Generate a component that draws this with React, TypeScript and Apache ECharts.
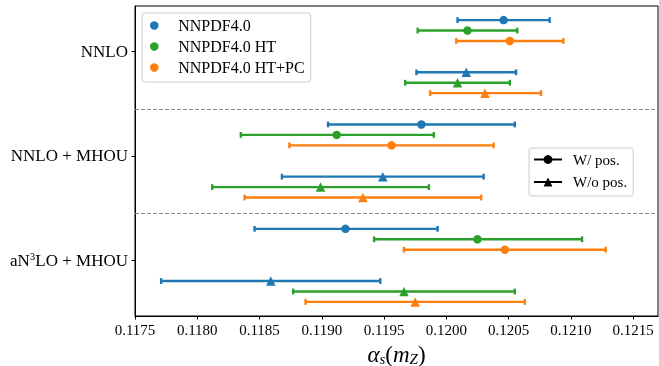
import React, { useEffect, useRef } from "react";
import * as echarts from "echarts";

const FONT = "Liberation Serif";

// Categories (top to bottom)
const GROUPS = ["NNLO", "NNLO + MHOU", "aN³LO + MHOU"];
// Datasets
const DATASETS = ["NNPDF4.0", "NNPDF4.0 HT", "NNPDF4.0 HT+PC"];
const COLORS = ["#1f77b4", "#2ca02c", "#ff7f0e"];
// Tick labels of the x axis
const X_TICKS = [0.1175, 0.118, 0.1185, 0.119, 0.1195, 0.12, 0.1205, 0.121, 0.1215];
const X_MIN = 0.1175;
const X_MAX = 0.1217;

// With positivity (circles): [dataset][group]
const POS_CENTRAL = [
  [0.12046, 0.1198, 0.11919],
  [0.12017, 0.11912, 0.12025],
  [0.12051, 0.11956, 0.12047],
];
const POS_LOW = [
  [0.12009, 0.11905, 0.11846],
  [0.11977, 0.11835, 0.11942],
  [0.12008, 0.11874, 0.11966],
];
const POS_HIGH = [
  [0.12083, 0.12055, 0.11993],
  [0.12057, 0.1199, 0.12109],
  [0.12094, 0.12038, 0.12128],
];
// Without positivity (triangles): [dataset][group]
const NOPOS_CENTRAL = [
  [0.12016, 0.11949, 0.11859],
  [0.12009, 0.11899, 0.11966],
  [0.12031, 0.11933, 0.11975],
];
const NOPOS_LOW = [
  [0.11976, 0.11868, 0.11771],
  [0.11967, 0.11812, 0.11877],
  [0.11987, 0.11838, 0.11887],
];
const NOPOS_HIGH = [
  [0.12056, 0.1203, 0.11947],
  [0.12051, 0.11986, 0.12055],
  [0.12076, 0.12028, 0.12063],
];
// Row offsets inside each category
const POS_OFFSETS = [-0.3, -0.2, -0.1];
const NOPOS_OFFSETS = [0.2, 0.3, 0.4];

const LEGEND_POS = ["W/ pos.", "W/o pos."];

export default function App() {
  const ref = useRef<HTMLDivElement>(null);

  useEffect(() => {
    if (!ref.current) return;
    const chart = echarts.init(ref.current, null, { renderer: "svg" });

    const allOffsets = [...POS_OFFSETS, ...NOPOS_OFFSETS];
    const dataMin = Math.min(...allOffsets);
    const dataMax = GROUPS.length - 1 + Math.max(...allOffsets);
    const pad = (dataMax - dataMin) * 0.05;
    const yMin = dataMin - pad;
    const yMax = dataMax + pad;
    const separators = GROUPS.slice(0, -1).map(
      (_, i) => (i + Math.max(...NOPOS_OFFSETS) + (i + 1 + Math.min(...POS_OFFSETS))) / 2
    );

    const errorSeries = (name: string, color: string, data: number[][], withMark: boolean) => ({
      type: "custom",
      name,
      z: 2,
      silent: true,
      encode: { x: [0, 1], y: 2 },
      data,
      renderItem: (_params: any, api: any) => {
        const lo = api.coord([api.value(0), api.value(2)]);
        const hi = api.coord([api.value(1), api.value(2)]);
        const cap = 2.9;
        const st = { stroke: color, lineWidth: 2.4 };
        return {
          type: "group",
          children: [
            { type: "line", shape: { x1: lo[0], y1: lo[1], x2: hi[0], y2: hi[1] }, style: st },
            { type: "line", shape: { x1: lo[0], y1: lo[1] - cap, x2: lo[0], y2: lo[1] + cap }, style: st },
            { type: "line", shape: { x1: hi[0], y1: hi[1] - cap, x2: hi[0], y2: hi[1] + cap }, style: st },
          ],
        };
      },
      markLine: withMark
        ? {
            silent: true,
            symbol: ["none", "none"],
            label: { show: false },
            lineStyle: { color: "#8c8c8c", type: [4, 2], width: 1 },
            data: separators.map((y) => ({ yAxis: y })),
          }
        : undefined,
    });

    const series: any[] = [];
    DATASETS.forEach((name, d) => {
      const color = COLORS[d];
      series.push(
        errorSeries(
          name + " err",
          color,
          GROUPS.map((_, g) => [POS_LOW[d][g], POS_HIGH[d][g], g + POS_OFFSETS[d]]),
          d === 0
        )
      );
      series.push({
        type: "scatter",
        name,
        z: 3,
        silent: true,
        symbol: "circle",
        symbolSize: 8.5,
        itemStyle: { color, opacity: 1 },
        data: GROUPS.map((_, g) => [POS_CENTRAL[d][g], g + POS_OFFSETS[d]]),
      });
      series.push(
        errorSeries(
          name + " noerr",
          color,
          GROUPS.map((_, g) => [NOPOS_LOW[d][g], NOPOS_HIGH[d][g], g + NOPOS_OFFSETS[d]]),
          false
        )
      );
      series.push({
        type: "scatter",
        name: name + " (w/o pos.)",
        z: 3,
        silent: true,
        symbol: "triangle",
        symbolSize: 9.5,
        itemStyle: { color, opacity: 1 },
        data: GROUPS.map((_, g) => [NOPOS_CENTRAL[d][g], g + NOPOS_OFFSETS[d]]),
      });
    });
    LEGEND_POS.forEach((name, i) => {
      series.push({
        type: "line",
        name,
        data: [],
        symbol: i === 0 ? "circle" : "triangle",
        symbolSize: 9,
        lineStyle: { color: "#000", width: 2 },
        itemStyle: { color: "#000" },
      });
    });

    const legendBase = (gap: number, fs: number) => ({
      orient: "vertical",
      selectedMode: false,
      backgroundColor: "rgba(255,255,255,0.85)",
      borderColor: "#cccccc",
      borderWidth: 1,
      borderRadius: 3,
      formatter: (n: string) => "{g| }{t|" + n + "}",
      textStyle: {
        fontFamily: FONT,
        fontSize: fs,
        color: "#000",
        rich: {
          g: { width: gap, fontSize: fs, lineHeight: 15 },
          t: { fontFamily: FONT, fontSize: fs, color: "#000", lineHeight: 15 },
        },
      },
    });

    chart.setOption({
      animation: false,
      grid: {
        left: 135,
        right: 1,
        top: 6,
        bottom: 50,
        show: true,
        outerBoundsMode: "none",
        containLabel: false,
        borderColor: "#000",
        borderWidth: 1,
        backgroundColor: "transparent",
      },
      legend: [
        {
          ...legendBase(8, 16),
          left: 142,
          top: 13,
          padding: [4.5, 6, 6.5, 8],
          itemGap: 5,
          itemWidth: 22,
          itemHeight: 8.5,
          icon: "circle",
          data: DATASETS,
        },
        {
          ...legendBase(6, 15),
          left: 529,
          top: 148,
          padding: [4, 6, 6.5, 4],
          itemGap: 7.5,
          itemWidth: 28,
          itemHeight: 11,
          data: LEGEND_POS,
        },
      ],
      xAxis: {
        type: "value",
        min: X_MIN,
        max: X_MAX,
        axisLine: { show: true, onZero: false, lineStyle: { color: "#000", width: 1 } },
        axisTick: { show: true, length: 3.5, customValues: X_TICKS, lineStyle: { color: "#000" } },
        axisLabel: {
          customValues: X_TICKS,
          formatter: (v: number) => v.toFixed(4),
          fontFamily: FONT,
          fontSize: 15,
          color: "#000",
          margin: 6,
        },
        splitLine: { show: false },
        name: "{i|α}{s|s}{n|(}{i|m}{s|Z}{n|)}",
        nameLocation: "middle",
        nameGap: 17,
        nameTextStyle: {
          rich: {
            i: { fontFamily: FONT, fontStyle: "italic", fontSize: 23, color: "#000", lineHeight: 26 },
            n: { fontFamily: FONT, fontSize: 23, color: "#000", lineHeight: 26 },
            s: {
              fontFamily: FONT,
              fontStyle: "italic",
              fontSize: 15,
              color: "#000",
              lineHeight: 15,
              padding: [10, 0, 0, 0],
            },
          },
        },
      },
      yAxis: {
        type: "value",
        inverse: true,
        min: yMin,
        max: yMax,
        axisLine: { show: true, onZero: false, lineStyle: { color: "#000", width: 1 } },
        axisTick: { show: true, length: 3.5, customValues: GROUPS.map((_, i) => i), lineStyle: { color: "#000" } },
        axisLabel: {
          customValues: GROUPS.map((_, i) => i),
          formatter: (v: number) => {
            const label = GROUPS[Math.round(v)] ?? "";
            return "{n|" + label.replace("³", "}{sup|3}{n|") + "}";
          },
          margin: 7,
          rich: {
            n: { fontFamily: FONT, fontSize: 17, color: "#000" },
            sup: { fontFamily: FONT, fontSize: 11, color: "#000", padding: [0, 0, 9, 0] },
          },
        },
        splitLine: { show: false },
      },
      series,
    });

    return () => chart.dispose();
  }, []);

  return (
    <div
      ref={ref}
      style={{ position: "fixed", left: 0, top: 0, width: 659, height: 366 }}
    />
  );
}
